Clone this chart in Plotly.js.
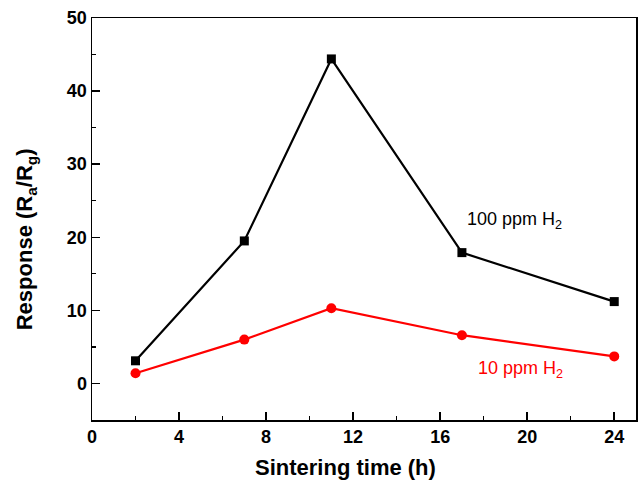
<!DOCTYPE html>
<html>
<head>
<meta charset="utf-8">
<script src="https://cdn.plot.ly/plotly-3.0.1.min.js"></script>
<style>
  html, body { margin: 0; padding: 0; background: #fff; }
  #chart { width: 638px; height: 483px; }
</style>
</head>
<body>
<div id="chart"></div>
<script>
// Sintering time (h)
const sinteringTime = [2, 7, 11, 17, 24];
// Response Ra/Rg at 100 ppm H2
const response100 = [3.1, 19.5, 44.4, 17.9, 11.2];
// Response Ra/Rg at 10 ppm H2
const response10 = [1.4, 6.0, 10.3, 6.6, 3.7];

const xTicks = [0, 4, 8, 12, 16, 20, 24];
const yTicks = [0, 10, 20, 30, 40, 50];

const font = 'Arial, "Liberation Sans", sans-serif';

const traces = [
  {
    x: sinteringTime, y: response100, type: 'scatter', mode: 'lines+markers',
    name: '100 ppm H2',
    line: { color: '#000000', width: 2.2 },
    marker: { symbol: 'square', size: 9, color: '#000000' }
  },
  {
    x: sinteringTime, y: response10, type: 'scatter', mode: 'lines+markers',
    name: '10 ppm H2',
    line: { color: '#ff0000', width: 2.2 },
    marker: { symbol: 'circle', size: 10, color: '#ff0000' }
  }
];

const axisCommon = {
  showline: true, linecolor: '#000', linewidth: 1.5, mirror: true,
  ticks: 'inside', ticklen: 8, tickwidth: 1.5, tickcolor: '#000',
  showgrid: false, zeroline: false,
  tickfont: { family: font, size: 18, color: '#000', weight: 'bold' }
};

const titleFont = { family: font, size: 22, color: '#000', weight: 'bold' };

const layout = {
  width: 638, height: 483,
  margin: { l: 92, r: 2, t: 18, b: 63 },
  paper_bgcolor: '#fff', plot_bgcolor: '#fff',
  showlegend: false,
  xaxis: Object.assign({}, axisCommon, {
    range: [0, 25], tickvals: xTicks, ticktext: xTicks.map(String),
    minor: { dtick: 2, tick0: 0, ticks: 'inside', ticklen: 4, tickwidth: 1.2, tickcolor: '#000' }
  }),
  yaxis: Object.assign({}, axisCommon, {
    range: [-5, 50], tickvals: yTicks, ticktext: yTicks.map(String),
    minor: { dtick: 5, tick0: 0, ticks: 'inside', ticklen: 4, tickwidth: 1.2, tickcolor: '#000' }
  }),
  annotations: [
    // axis titles
    {
      x: 0.4656, y: -0.119, xref: 'paper', yref: 'paper', xanchor: 'center', yanchor: 'middle',
      text: 'Sintering time (h)', showarrow: false, font: titleFont
    },
    {
      x: -0.121, y: 0.45, xref: 'paper', yref: 'paper', xanchor: 'center', yanchor: 'middle',
      textangle: -90,
      text: 'Response (R<sub>a</sub>/R<sub>g</sub>)', showarrow: false, font: titleFont
    },
    // series labels
    {
      x: 17.15, y: 22.3, xref: 'x', yref: 'y', xanchor: 'left', yanchor: 'middle',
      text: '100 ppm H<sub>2</sub>', showarrow: false,
      font: { family: font, size: 18, color: '#000' }
    },
    {
      x: 17.65, y: 1.9, xref: 'x', yref: 'y', xanchor: 'left', yanchor: 'middle',
      text: '10 ppm H<sub>2</sub>', showarrow: false,
      font: { family: font, size: 18, color: '#ff0000' }
    }
  ]
};

Plotly.newPlot('chart', traces, layout, { displayModeBar: false, staticPlot: true });
</script>
</body>
</html>
